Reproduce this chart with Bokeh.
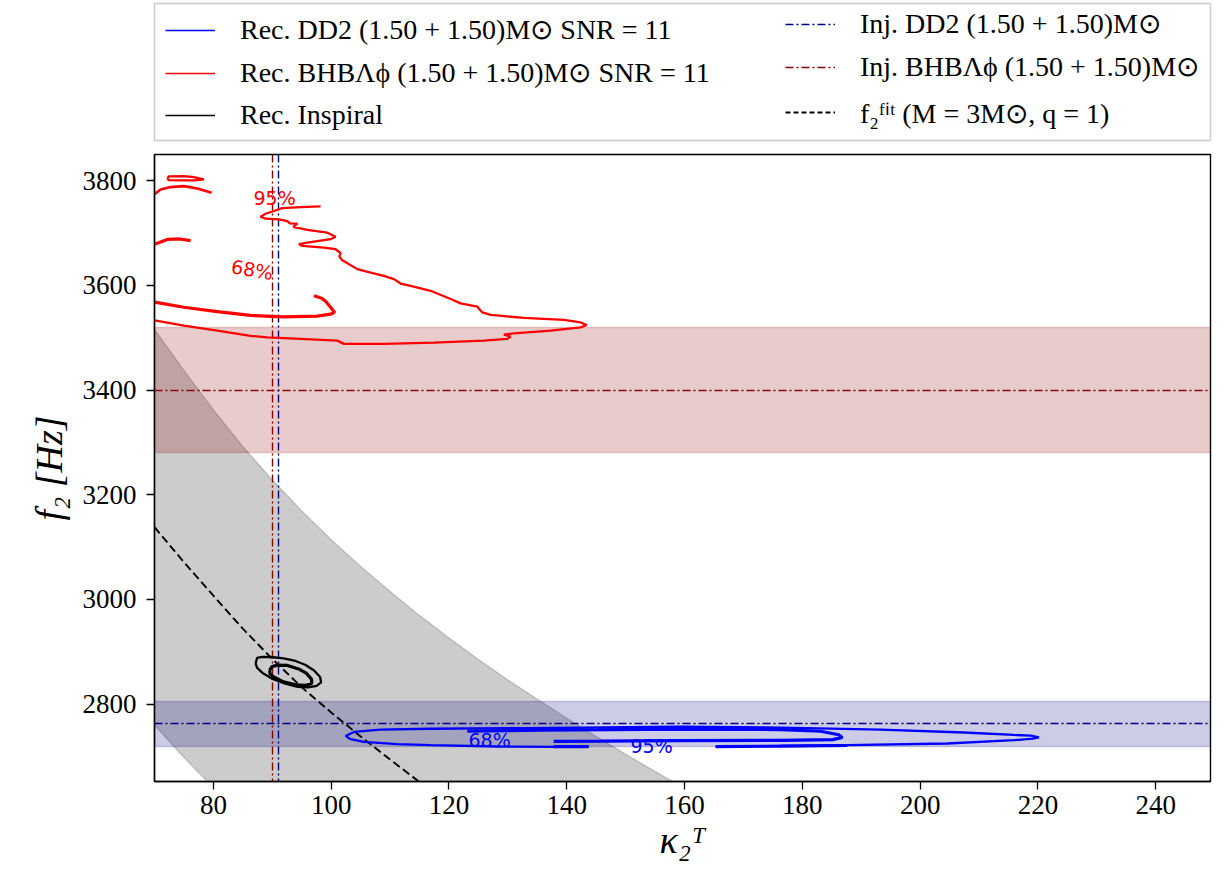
from bokeh.plotting import figure
from bokeh.layouts import column
from bokeh.models import Legend, LegendItem, FixedTicker
from bokeh.core.properties import value
from bokeh.embed import file_html
from bokeh.resources import INLINE

# ---------------- data ----------------
x_ticks = [80, 100, 120, 140, 160, 180, 200, 220, 240]
y_ticks = [2800, 3000, 3200, 3400, 3600, 3800]

inj_kappa_bhb = [90.1]
inj_kappa_dd2 = [91.0]
inj_f2_bhb = [3400]
inj_f2_bhb_lo = [3280]
inj_f2_bhb_hi = [3520]
inj_f2_dd2 = [2763]
inj_f2_dd2_lo = [2719]
inj_f2_dd2_hi = [2805]

fit_kappa = [70, 75, 80, 85, 90, 95, 100, 105, 110, 115]
fit_f2 = [3138, 3071, 3007, 2944, 2886, 2832, 2784, 2738, 2694, 2651]

band_kappa = [70, 75, 80, 85, 90, 95, 100, 105, 110, 115, 120, 125, 130, 135, 140, 145, 150, 155, 160]
band_upper = [3516, 3437, 3362, 3292, 3228, 3169, 3114, 3063, 3015, 2969, 2926, 2885, 2846, 2809, 2773, 2738, 2704, 2671, 2639]
band_lower = [2760, 2698, 2640, 2586, 2537, 2491, 2450, 2410, 2373, 2338, 2305, 2273, 2243, 2214, 2187, 2161, 2136, 2112, 2090]

# BHB (red) 95% contour pieces
bhb95_main_k = [98.20, 94.81, 91.70, 90.27, 88.86, 88.01, 88.86, 91.12, 92.55, 92.99, 94.25, 93.57, 95.94, 99.34,
                100.75, 99.90, 95.94, 94.52, 95.10, 98.76, 100.75, 101.60, 101.38, 101.89, 104.44, 106.69, 108.95,
                110.65, 111.79, 113.49, 116.88, 120.28, 121.98, 124.81, 125.66, 127.07, 132.73, 139.52, 142.35, 143.37,
                142.35, 137.26, 131.03, 129.33, 130.47, 129.91, 125.93, 117.44, 108.95, 102.16, 101.04, 94.81, 89.15,
                86.32, 80.66, 74.99, 70.0]
bhb95_main_f = [3750.9, 3749.6, 3747.7, 3742.0, 3736.8, 3731.1, 3727.3, 3726.2, 3722.9, 3718.5, 3717.8, 3711.5, 3705.8,
                3700.6, 3693.0, 3688.1, 3681.6, 3678.6, 3675.3, 3672.1, 3669.0, 3661.4, 3655.0, 3648.1, 3631.0, 3624.5,
                3618.2, 3611.9, 3603.5, 3599.2, 3589.6, 3573.8, 3565.5, 3559.2, 3548.3, 3543.4, 3537.7, 3533.9, 3529.3,
                3524.3, 3519.8, 3513.5, 3508.3, 3505.9, 3502.1, 3497.7, 3494.4, 3490.6, 3488.2, 3488.2, 3494.4, 3497.7,
                3500.7, 3503.4, 3513.5, 3523.0, 3533.0]
bhb95_loop_k = [72.17, 72.44, 74.99, 76.69, 78.39, 76.69, 74.99, 72.44, 72.17]
bhb95_loop_f = [3803.8, 3808.1, 3808.6, 3806.7, 3802.3, 3800.4, 3800.4, 3801.0, 3803.8]
bhb95_arc_k = [70.0, 71.03, 72.73, 74.99, 77.27, 79.69]
bhb95_arc_f = [3774.0, 3783.3, 3787.7, 3789.6, 3785.2, 3776.8]

# BHB (red) 68% contour pieces
bhb68_main_k = [70.0, 74.99, 80.66, 86.32, 91.97, 97.64, 99.90, 100.58, 99.90, 99.05, 98.37, 97.07]
bhb68_main_f = [3568.0, 3558.2, 3549.7, 3542.6, 3539.6, 3541.1, 3544.9, 3548.3, 3558.2, 3569.6, 3575.4, 3580.1]
bhb68_arc_k = [70.0, 72.17, 74.3, 76.13]
bhb68_arc_f = [3678.6, 3687.7, 3688.6, 3685.4]

# DD2 (blue) contours
dd2_95_k = [165.28, 187.64, 204.62, 215.93, 219.1, 220.18, 218.8, 215.93, 207.44, 193.30, 176.31, 159.33, 133.86,
            116.88, 108.39, 103.86, 102.45, 103.30, 105.56, 111.23, 116.88, 128.21, 137.82, 143.71]
dd2_95_f = [2718.6, 2721.4, 2724.6, 2730.9, 2733.8, 2736.1, 2739.5, 2741.0, 2745.6, 2751.3, 2755.1, 2756.6, 2754.1,
            2752.8, 2751.3, 2746.7, 2739.1, 2732.8, 2727.7, 2723.3, 2721.4, 2718.9, 2718.2, 2718.2]
dd2_68_k = [123.11, 135.56, 159.33, 176.31, 183.10, 186.16, 186.79, 185.14, 176.31, 159.33, 145.75, 137.77]
dd2_68_f = [2748.4, 2749.9, 2752.2, 2751.3, 2748.0, 2741.4, 2736.1, 2731.9, 2730.5, 2730.0, 2729.0, 2728.5]
dd2_68_seg1_k = [137.77, 143.71]
dd2_68_seg1_f = [2718.6, 2718.6]
dd2_68_seg2_k = [165.28, 176.3, 187.6]
dd2_68_seg2_f = [2718.6, 2719.6, 2720.8]

# Inspiral (black) contours
insp95_k = [87.17, 87.42, 88.35, 89.71, 91.92, 93.96, 95.66, 97.10, 98.12, 98.29, 97.52, 96.08, 94.30, 92.09, 90.05,
            88.35, 87.42, 87.17]
insp95_f = [2877.5, 2888.0, 2889.9, 2889.9, 2887.1, 2882.3, 2874.7, 2864.2, 2851.8, 2841.4, 2834.7, 2831.8, 2832.8,
            2839.5, 2848.0, 2859.4, 2869.0, 2877.5]
insp68_k = [89.54, 89.97, 90.90, 92.60, 94.47, 95.83, 96.68, 96.68, 95.66, 93.96, 91.92, 90.39, 89.63, 89.54]
insp68_f = [2864.2, 2871.8, 2874.3, 2873.7, 2867.1, 2858.5, 2847.1, 2839.5, 2835.6, 2836.6, 2842.3, 2850.9, 2857.5,
            2864.2]

# contour labels
red_label_k = [90.4, 86.6]
red_label_f = [3766, 3630]
red_label_text = ["95%", "68%"]
red_label_angle = [0.0, -0.17]
blue_label_k = [126.9, 154.4]
blue_label_f = [2731, 2720]
blue_label_text = ["68%", "95%"]

legend_labels = [
    "Rec. DD2 (1.50 + 1.50)M\u2299 SNR = 11",
    "Rec. BHB\u039b\u03d5 (1.50 + 1.50)M\u2299 SNR = 11",
    "Rec. Inspiral",
    "Inj. DD2 (1.50 + 1.50)M\u2299",
    "Inj. BHB\u039b\u03d5 (1.50 + 1.50)M\u2299",
    "f\u2082\u1da0\u2071\u1d57 (M = 3M\u2299, q = 1)",
]

# ---------------- styles ----------------
BLUE = "#0000ff"
RED = "#ff0000"
NAVY = "#000080"
DARKRED = "#8b0000"
SERIF = "Liberation Serif"
DASHDOT = "8 3 2 3"

W, H_LEG, H_MAIN = 1226, 153, 722

p = figure(width=W, height=H_MAIN, x_range=(70, 249.3), y_range=(2652, 3850),
           output_backend="svg", toolbar_location=None,
           min_border_left=154, min_border_right=16, min_border_top=1, min_border_bottom=94)
p.grid.visible = False
p.outline_line_color = "black"
p.outline_line_width = 1.4
p.background_fill_color = "white"

for ax in (p.xaxis, p.yaxis):
    ax.axis_line_width = 1.4
    ax.major_tick_line_width = 1.3
    ax.major_tick_in = 0
    ax.major_tick_out = 8
    ax.minor_tick_line_color = None
    ax.major_label_text_font = SERIF
    ax.major_label_text_font_size = "27px"
    ax.major_label_text_color = "black"
    ax.axis_label_text_font = SERIF
    ax.axis_label_text_font_size = "38px"
    ax.axis_label_text_font_style = "italic"
    ax.axis_label_text_color = "black"

p.xaxis.ticker = FixedTicker(ticks=x_ticks)
p.yaxis.ticker = FixedTicker(ticks=y_ticks)
p.xaxis.major_label_standoff = 6
p.yaxis.major_label_standoff = 10
p.xaxis.axis_label = "\u03ba\u2082\u1d40"
p.yaxis.axis_label = "f\u2082 [Hz]"
p.xaxis.axis_label_standoff = 2
p.yaxis.axis_label_standoff = 10

# bands
p.varea(x=band_kappa, y1=band_lower, y2=band_upper, fill_color="grey", fill_alpha=0.4)
p.line(band_kappa, band_upper, line_color="grey", line_alpha=0.45, line_width=1.2)
p.line(band_kappa, band_lower, line_color="grey", line_alpha=0.45, line_width=1.2)
p.hstrip(y0=inj_f2_bhb_lo, y1=inj_f2_bhb_hi, fill_color=DARKRED, fill_alpha=0.2,
         line_color=DARKRED, line_alpha=0.2, line_width=1.5)
p.hstrip(y0=inj_f2_dd2_lo, y1=inj_f2_dd2_hi, fill_color=NAVY, fill_alpha=0.2,
         line_color=NAVY, line_alpha=0.2, line_width=1.5)

# injection lines
p.hspan(y=inj_f2_bhb, line_color=DARKRED, line_width=1.4, line_dash=DASHDOT)
p.hspan(y=inj_f2_dd2, line_color=NAVY, line_width=1.4, line_dash=DASHDOT)
p.vspan(x=inj_kappa_bhb, line_color=DARKRED, line_width=1.4, line_dash=DASHDOT)
p.vspan(x=inj_kappa_dd2, line_color=NAVY, line_width=1.4, line_dash=DASHDOT)

# fit
p.line(fit_kappa, fit_f2, line_color="black", line_width=1.9, line_dash="8 4")

# contour labels
p.text(x=red_label_k, y=red_label_f, text=red_label_text, angle=red_label_angle,
       text_color=RED, text_font=value("DejaVu Sans"), text_font_size="19px",
       text_align="center", text_baseline="middle")
p.text(x=blue_label_k, y=blue_label_f, text=blue_label_text,
       text_color=BLUE, text_font=value("DejaVu Sans"), text_font_size="19px",
       text_align="center", text_baseline="middle")

# contours
W95, W68 = 2.3, 3.2
p.line(bhb95_main_k, bhb95_main_f, line_color=RED, line_width=W95)
p.line(bhb95_loop_k, bhb95_loop_f, line_color=RED, line_width=W95)
p.line(bhb95_arc_k, bhb95_arc_f, line_color=RED, line_width=2.6)
p.line(bhb68_main_k, bhb68_main_f, line_color=RED, line_width=W68)
p.line(bhb68_arc_k, bhb68_arc_f, line_color=RED, line_width=W68)

p.line(dd2_95_k, dd2_95_f, line_color=BLUE, line_width=W95)
p.line(dd2_68_k, dd2_68_f, line_color=BLUE, line_width=W68)
p.line(dd2_68_seg1_k, dd2_68_seg1_f, line_color=BLUE, line_width=W68)
p.line(dd2_68_seg2_k, dd2_68_seg2_f, line_color=BLUE, line_width=W68)

p.line(insp95_k, insp95_f, line_color="black", line_width=W95)
p.line(insp68_k, insp68_f, line_color="black", line_width=W68)

# ---------------- legend (separate strip above the plot) ----------------
# the strip's frame (aligned with the main frame by the column layout) is the
# legend box; proxy glyphs carry real data but lie outside its ranges (hidden)
lf = figure(width=W, height=H_LEG, x_range=(0, 1), y_range=(0, 1),
            output_backend="svg", toolbar_location=None,
            x_axis_location=None, y_axis_location=None,
            min_border_left=0, min_border_right=0, min_border_top=3, min_border_bottom=13)
lf.grid.visible = False
lf.outline_line_color = "#cccccc"
lf.outline_line_width = 1.5

leg_styles = [
    dict(line_color=BLUE, line_width=1.5),
    dict(line_color=RED, line_width=1.5),
    dict(line_color="black", line_width=1.5),
    dict(line_color=NAVY, line_width=1.5, line_dash=DASHDOT),
    dict(line_color=DARKRED, line_width=1.5, line_dash=DASHDOT),
    dict(line_color="black", line_width=1.8, line_dash="5 3"),
]
proxies = [lf.line(x=fit_kappa, y=fit_f2, **st) for st in leg_styles]
items = [LegendItem(label=lab, renderers=[r]) for lab, r in zip(legend_labels, proxies)]

common = dict(glyph_width=50, glyph_height=20, label_standoff=25, label_height=32, spacing=10,
              padding=11, margin=0, label_text_font=SERIF, label_text_font_size="28px",
              label_text_color="black", orientation="vertical",
              border_line_alpha=0, background_fill_alpha=0)
leg1 = Legend(items=items[:3], location=(0, -2), label_width=100, **common)
leg2 = Legend(items=items[3:], location=(620, -2), label_width=100, **common)
lf.add_layout(leg1)
lf.add_layout(leg2)

layout = column(lf, p, spacing=0)
open("out.html", "w").write(file_html(layout, INLINE))
